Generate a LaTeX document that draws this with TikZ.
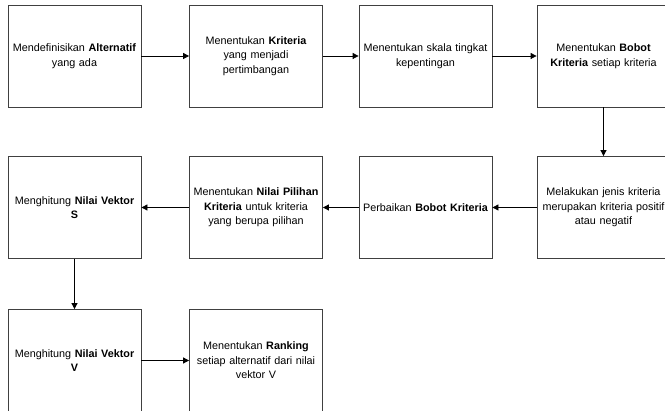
\documentclass[tikz,border=0pt]{standalone}
\usepackage{fontspec}
\setmainfont{Liberation Sans}
\usetikzlibrary{arrows.meta}
\begin{document}
\begin{tikzpicture}[x=1pt,y=1pt,
  box/.style={draw=black!75, line width=0.8pt, minimum width=133pt, minimum height=102pt,
    inner sep=0pt, text width=131pt, align=center, font=\fontsize{10.8}{14.5}\selectfont},
  arr/.style={line width=0.8pt, -{Triangle[length=6pt,width=6pt]}}]
\useasboundingbox (0,0) rectangle (665,411);
\clip (0,0) rectangle (665,411);
\node[box] (a1) at (74.5,355) {Mendefinisikan \textbf{Alternatif}\\yang ada};
\node[box] (a2) at (256,355) {Menentukan \textbf{Kriteria}\\yang menjadi\\pertimbangan};
\node[box] (a3) at (425.5,355) {Menentukan skala tingkat\\kepentingan};
\node[box] (a4) at (603.5,355) {Menentukan \textbf{Bobot}\\\textbf{Kriteria} setiap kriteria};
\node[box] (b4) at (603.5,203.5) {Melakukan jenis kriteria\\merupakan kriteria positif\\atau negatif};
\node[box] (b3) at (425.5,203.5) {Perbaikan \textbf{Bobot Kriteria}};
\node[box] (b2) at (256,203.5) {Menentukan \textbf{Nilai Pilihan}\\\textbf{Kriteria} untuk kriteria\\yang berupa pilihan};
\node[box] (b1) at (74.5,203.5) {Menghitung \textbf{Nilai Vektor}\\\textbf{S}};
\node[box] (c1) at (74.5,50.5) {Menghitung \textbf{Nilai Vektor}\\\textbf{V}};
\node[box] (c2) at (256,50.5) {Menentukan \textbf{Ranking}\\setiap alternatif dari nilai\\vektor V};
\draw[arr] (a1.east) -- (a2.west);
\draw[arr] (a2.east) -- (a3.west);
\draw[arr] (a3.east) -- (a4.west);
\draw[arr] (a4.south) -- (b4.north);
\draw[arr] (b4.west) -- (b3.east);
\draw[arr] (b3.west) -- (b2.east);
\draw[arr] (b2.west) -- (b1.east);
\draw[arr] (b1.south) -- (c1.north);
\draw[arr] (c1.east) -- (c2.west);
\end{tikzpicture}
\end{document}
